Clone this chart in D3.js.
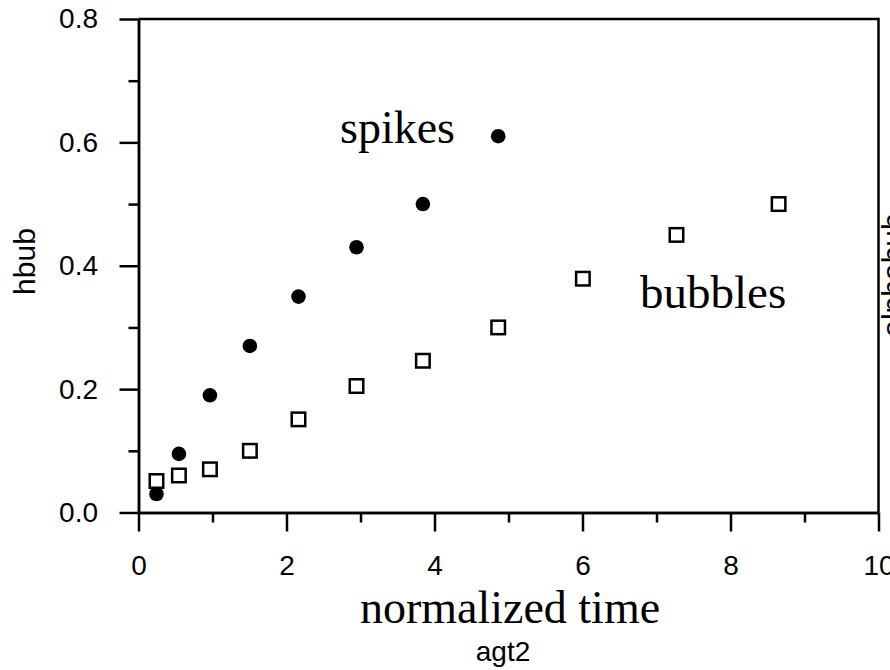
<!DOCTYPE html>
<html>
<head>
<meta charset="utf-8">
<script src="https://cdn.jsdelivr.net/npm/d3@7"></script>
<style>
    body { margin: 0; background: #fff; }
    .axis text { font-family: "Liberation Sans", Arial, sans-serif; font-size: 28px; fill: #000; }
    .axis path, .axis line { stroke: #000; stroke-width: 2.5px; }
</style>
</head>
<body>
<div id="chart"></div>
<script>
// values
const spikeTime = [0.243, 0.546, 0.965, 1.505, 2.162, 2.946, 3.843, 4.861];
const spikeHbub = [0.030, 0.095, 0.190, 0.270, 0.350, 0.430, 0.500, 0.610];
const bubbleTime = [0.243, 0.546, 0.965, 1.505, 2.162, 2.946, 3.843, 4.861, 6.005, 7.27, 8.65];
const bubbleHbub = [0.051, 0.060, 0.070, 0.100, 0.151, 0.205, 0.246, 0.300, 0.379, 0.450, 0.500];

const xTicks = [0, 2, 4, 6, 8, 10];
const xMinorTicks = [1, 3, 5, 7, 9];
const yTicks = [0, 0.2, 0.4, 0.6, 0.8];
const yMinorTicks = [0.1, 0.3, 0.5, 0.7];

const width = 890, height = 670;
const margin = {top: 19, right: 11.5, bottom: 157.5, left: 138.5};

let svg = d3.select("#chart").append("svg")
    .attr("width", width)
    .attr("height", height);

let x = d3.scaleLinear()
    .domain([0, 10])
    .range([margin.left, width - margin.right]);

let y = d3.scaleLinear()
    .domain([0, 0.8])
    .range([height - margin.bottom, margin.top]);

// frame: top and right edges
svg.append("path")
    .attr("d", `M${x(0)},${y(0.8)}H${x(10)}V${y(0)}`)
    .attr("fill", "none")
    .attr("stroke", "#000")
    .attr("stroke-width", 2.5);

// minor ticks
svg.append("g")
    .attr("class", "axis")
    .attr("transform", `translate(0,${y(0)})`)
    .call(d3.axisBottom(x).tickValues(xMinorTicks).tickSize(10).tickSizeOuter(0).tickFormat(""));

svg.append("g")
    .attr("class", "axis")
    .attr("transform", `translate(${x(0)},0)`)
    .call(d3.axisLeft(y).tickValues(yMinorTicks).tickSize(10).tickSizeOuter(0).tickFormat(""));

// major ticks + labels
svg.append("g")
    .attr("class", "axis")
    .attr("transform", `translate(0,${y(0)})`)
    .call(d3.axisBottom(x).tickValues(xTicks).tickSize(19).tickSizeOuter(0).tickPadding(23.5).tickFormat(d3.format("d")));

svg.append("g")
    .attr("class", "axis")
    .attr("transform", `translate(${x(0)},0)`)
    .call(d3.axisLeft(y).tickValues(yTicks).tickSize(19).tickSizeOuter(0).tickPadding(21.5).tickFormat(d3.format(".1f")));

// axis labels
svg.append("text")
    .attr("x", 503)
    .attr("y", 661)
    .attr("text-anchor", "middle")
    .style("font-family", "'Liberation Sans', Arial, sans-serif")
    .style("font-size", "28px")
    .text("agt2");

svg.append("text")
    .attr("transform", "translate(35,261.5) rotate(-90)")
    .attr("text-anchor", "middle")
    .style("font-family", "'Liberation Sans', Arial, sans-serif")
    .style("font-size", "30px")
    .text("hbub");

svg.append("text")
    .attr("transform", "translate(903,275) rotate(-90)")
    .attr("text-anchor", "middle")
    .style("font-family", "'Liberation Sans', Arial, sans-serif")
    .style("font-size", "30px")
    .text("alphabub");

// serif annotations
const serif = "'Liberation Serif', 'Times New Roman', serif";

svg.append("text")
    .attr("x", 510)
    .attr("y", 623)
    .attr("text-anchor", "middle")
    .style("font-family", serif)
    .style("font-size", "46px")
    .text("normalized time");

svg.append("text")
    .attr("x", 340)
    .attr("y", 143)
    .style("font-family", serif)
    .style("font-size", "46px")
    .text("spikes");

svg.append("text")
    .attr("x", 640)
    .attr("y", 308)
    .style("font-family", serif)
    .style("font-size", "47px")
    .text("bubbles");

// bubbles: open squares
const sq = 13.5;
svg.append("g")
    .selectAll("rect")
    .data(d3.zip(bubbleTime, bubbleHbub))
    .enter().append("rect")
    .attr("x", d => x(d[0]) - sq / 2)
    .attr("y", d => y(d[1]) - sq / 2)
    .attr("width", sq)
    .attr("height", sq)
    .attr("fill", "none")
    .attr("stroke", "#000")
    .attr("stroke-width", 2.5);

// spikes: filled circles
svg.append("g")
    .selectAll("circle")
    .data(d3.zip(spikeTime, spikeHbub))
    .enter().append("circle")
    .attr("cx", d => x(d[0]))
    .attr("cy", d => y(d[1]))
    .attr("r", 7.3)
    .attr("fill", "#000");
</script>
</body>
</html>
